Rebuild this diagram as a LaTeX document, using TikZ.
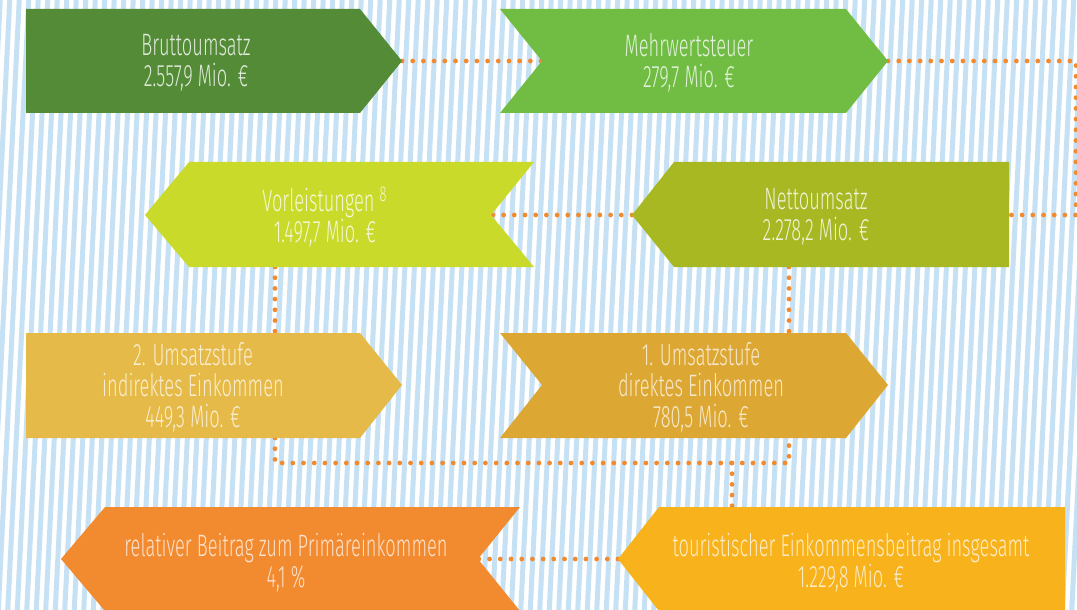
\documentclass[tikz,border=0pt]{standalone}
\usepackage{fontspec}
\setmainfont{Fira Sans}[UprightFont={* Light},FakeStretch=0.59]
\definecolor{bruttogreen}{HTML}{548B37}
\definecolor{mwstgreen}{HTML}{71BD44}
\definecolor{vorlyellow}{HTML}{C9DA2B}
\definecolor{nettoolive}{HTML}{A8B823}
\definecolor{zweigold}{HTML}{E6BA48}
\definecolor{einsgold}{HTML}{DDA733}
\definecolor{beitragorange}{HTML}{F28A30}
\definecolor{gesamtamber}{HTML}{F7B21C}
\definecolor{stripeblue}{HTML}{C6E0F4}
\definecolor{dotorange}{HTML}{F28A30}

\begin{document}
\begin{tikzpicture}[x=0.5pt,y=-0.5pt,
    boxtext/.style={align=center,font=\fontsize{15.5}{15.5}\selectfont},
    dotline/.style={draw=dotorange,line width=2.4pt,line cap=round,dash pattern=on 0pt off 5.35pt},
    stripe/.style={draw=stripeblue,line width=2.5pt}]
  \useasboundingbox (0,0) rectangle (1077,610);
  % Background with slanted stripes
  \begin{scope}
    \clip (0,0) rectangle (1077,610);
    \foreach \s in {-40,-30.5,...,1090}
      \draw[stripe] (\s,615) -- (\s+31,-5);
  \end{scope}
  % End points of the dotted connectors
  \coordinate (brutto-tip)   at (402,61);
  \coordinate (mwst-notch)   at (542,61);
  \coordinate (mwst-tip)     at (888,61);
  \coordinate (netto-back)   at (1009,215);
  \coordinate (netto-tip)    at (632,215);
  \coordinate (netto-foot)   at (789,267);
  \coordinate (vorl-notch)   at (491,215);
  \coordinate (vorl-foot)    at (275,267);
  \coordinate (zwei-head)    at (275,333);
  \coordinate (zwei-foot)    at (275,438);
  \coordinate (eins-head)    at (789,333);
  \coordinate (eins-foot)    at (789,438);
  \coordinate (sum-left)     at (275,463);
  \coordinate (sum-right)    at (789,463);
  \coordinate (sum-drop)     at (732,463);
  \coordinate (gesamt-head)  at (732,507);
  \coordinate (gesamt-tip)   at (618,559);
  \coordinate (beitrag-notch) at (478,559);
  % Dotted connectors
  \draw[dotline] (brutto-tip) -- (mwst-notch);
  \draw[dotline] (mwst-tip) -- (1076,61) -- (1076,215) -- (netto-back);
  \draw[dotline] (netto-tip) -- (vorl-notch);
  \draw[dotline] (vorl-foot) -- (zwei-head);
  \draw[dotline] (netto-foot) -- (eins-head);
  \draw[dotline] (zwei-foot) -- (sum-left) -- (sum-right) -- (eins-foot);
  \draw[dotline] (sum-drop) -- (gesamt-head);
  \draw[dotline] (gesamt-tip) -- (beitrag-notch);
  % First row
  \fill[bruttogreen] (26,9) -- (360,9) -- (402,61) -- (360,113) -- (26,113) -- cycle;
  \node[boxtext,text=white!82!bruttogreen] (brutto) at (196,63) {Bruttoumsatz\\2.557,9 Mio. €};
  \fill[mwstgreen] (500,9) -- (846,9) -- (888,61) -- (846,113) -- (500,113) -- (542,61) -- cycle;
  \node[boxtext,text=white!80!mwstgreen] (mwst) at (689,63) {Mehrwertsteuer\\279,7 Mio. €};
  % Second row
  \fill[vorlyellow] (145,215) -- (189,162) -- (534,162) -- (491,215) -- (534,267) -- (189,267) -- cycle;
  \node[boxtext,text=white!80!vorlyellow] (vorl) at (325,217) {Vorleistungen \textsuperscript{8}\\1.497,7 Mio. €};
  \fill[nettoolive] (632,215) -- (674,162) -- (1009,162) -- (1009,267) -- (674,267) -- cycle;
  \node[boxtext,text=white!82!nettoolive] (netto) at (816,217) {Nettoumsatz\\2.278,2 Mio. €};
  % Third row
  \fill[zweigold] (26,333) -- (360,333) -- (402,385) -- (360,438) -- (26,438) -- cycle;
  \node[boxtext,text=white!75!zweigold] (stufezwei) at (193,387) {2. Umsatzstufe\\indirektes Einkommen\\449,3 Mio. €};
  \fill[einsgold] (500,333) -- (846,333) -- (888,385) -- (846,438) -- (500,438) -- (542,385) -- cycle;
  \node[boxtext,text=white!75!einsgold] (stufeeins) at (701,387) {1. Umsatzstufe\\direktes Einkommen\\780,5 Mio. €};
  % Last row
  \fill[beitragorange] (61,559) -- (105,507) -- (520,507) -- (478,559) -- (520,611) -- (105,611) -- cycle;
  \node[boxtext,text=white!75!beitragorange] (beitrag) at (286,563) {relativer Beitrag zum Primäreinkommen\\4,1 \%};
  \fill[gesamtamber] (618,559) -- (659,507) -- (1065,507) -- (1065,611) -- (659,611) -- cycle;
  \node[boxtext,text=white!75!gesamtamber] (gesamt) at (851,563) {touristischer Einkommensbeitrag insgesamt\\1.229,8 Mio. €};
\end{tikzpicture}
\end{document}
